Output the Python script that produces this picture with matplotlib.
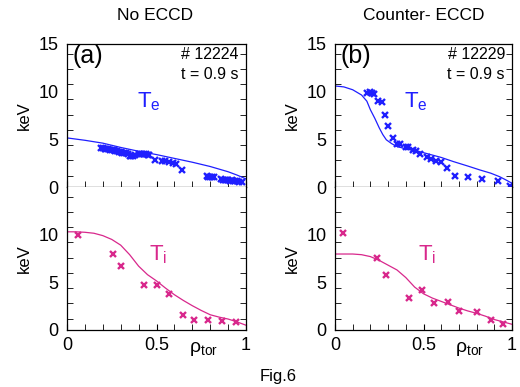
import numpy as np
import matplotlib
matplotlib.use("Agg")
import matplotlib.pyplot as plt

plt.rcParams['font.family'] = ['Liberation Sans', 'DejaVu Sans']

# (a) #12224, no ECCD - electron temperature
rho_te_fit_a = [0.0, 0.1, 0.2, 0.3, 0.4, 0.5, 0.6, 0.7, 0.8, 0.9, 0.95, 1.0]
te_fit_a = [5.15, 4.9, 4.6, 4.15, 3.75, 3.4, 3.0, 2.6, 2.15, 1.6, 1.25, 0.85]
rho_te_a = [0.19, 0.20, 0.21, 0.22, 0.23, 0.24, 0.25, 0.26, 0.27, 0.28, 0.29, 0.30,
            0.31, 0.32, 0.33, 0.34, 0.35, 0.36, 0.37, 0.38, 0.40, 0.41, 0.42, 0.43,
            0.44, 0.45, 0.46, 0.49, 0.53, 0.55, 0.57, 0.59, 0.61, 0.64,
            0.78, 0.79, 0.80, 0.81, 0.82, 0.86, 0.87, 0.88, 0.89, 0.90, 0.91,
            0.92, 0.93, 0.94, 0.95, 0.96, 0.98]
te_a = [4.1, 4.05, 4.0, 4.0, 3.95, 3.9, 3.9, 3.85, 3.8, 3.75, 3.7, 3.65,
        3.6, 3.6, 3.55, 3.45, 3.3, 3.2, 3.3, 3.4, 3.45, 3.5, 3.5, 3.45,
        3.45, 3.4, 3.35, 2.8, 2.75, 2.7, 2.65, 2.55, 2.45, 1.8,
        1.15, 1.1, 1.05, 1.0, 1.0, 0.8, 0.75, 0.7, 0.7, 0.7, 0.65,
        0.7, 0.65, 0.6, 0.6, 0.55, 0.5]

# (b) #12229, counter ECCD - electron temperature
rho_te_fit_b = [0.0, 0.05, 0.1, 0.15, 0.18, 0.2, 0.225, 0.25, 0.27, 0.29, 0.32, 0.35,
                0.4, 0.45, 0.5, 0.55, 0.6, 0.67, 0.75, 0.82, 0.88, 0.93, 0.97, 1.0]
te_fit_b = [10.6, 10.5, 10.2, 9.65, 9.0, 8.1, 7.2, 6.2, 5.5, 4.95, 4.55, 4.25,
            4.0, 3.85, 3.6, 3.35, 3.1, 2.66, 2.2, 1.78, 1.45, 1.08, 0.7, 0.39]
rho_te_b = [0.18, 0.195, 0.21, 0.22, 0.245, 0.265, 0.28, 0.30, 0.326, 0.35, 0.37,
            0.40, 0.41, 0.44, 0.46, 0.48, 0.52, 0.545, 0.57, 0.60, 0.63,
            0.68, 0.75, 0.83, 0.92, 0.99]
te_b = [9.9, 10.0, 9.9, 9.75, 9.0, 8.95, 7.55, 6.4, 5.1, 4.55, 4.5,
        4.2, 4.15, 3.85, 3.8, 3.46, 3.1, 2.95, 2.76, 2.6, 2.0,
        1.19, 1.02, 0.8, 0.67, 0.14]

# ion temperature
rho_ti_fit_a = [0.0, 0.05, 0.1, 0.15, 0.2, 0.25, 0.3, 0.35, 0.4, 0.45, 0.5,
                0.55, 0.6, 0.65, 0.7, 0.75, 0.8, 0.85, 0.9, 0.95, 1.0]
ti_fit_a = [10.3, 10.3, 10.25, 10.15, 9.9, 9.5, 8.9, 7.9, 6.7, 5.8, 5.15,
            4.4, 3.7, 3.1, 2.55, 2.05, 1.6, 1.35, 1.15, 0.85, 0.5]
rho_ti_a = [0.063, 0.257, 0.30, 0.43, 0.50, 0.57, 0.65, 0.71, 0.79, 0.865, 0.946]
ti_a = [9.97, 7.97, 6.7, 4.69, 4.69, 3.78, 1.54, 1.05, 1.05, 0.98, 0.84]

rho_ti_fit_b = [0.0, 0.1, 0.15, 0.2, 0.25, 0.3, 0.35, 0.4, 0.45, 0.5, 0.55,
                0.6, 0.65, 0.7, 0.75, 0.8, 0.85, 0.9, 0.95, 1.0]
ti_fit_b = [7.97, 7.97, 7.9, 7.7, 7.3, 6.8, 6.3, 5.5, 4.5, 3.8, 3.35,
            3.0, 2.65, 2.3, 2.0, 1.75, 1.45, 1.1, 0.85, 0.6]
rho_ti_b = [0.043, 0.24, 0.286, 0.42, 0.49, 0.56, 0.64, 0.70, 0.80, 0.88, 0.95]
ti_b = [10.2, 7.52, 5.77, 3.39, 4.2, 2.83, 2.94, 2.03, 1.89, 1.05, 0.6]

blue = '#1f1fff'
pink = '#d8288c'

fig = plt.figure(figsize=(5.2, 3.87), dpi=100)
W, H = 520, 387

def make_ax(x0, x1, y0, y1):
    return fig.add_axes([x0 / W, 1 - y1 / H, (x1 - x0) / W, (y1 - y0) / H])

ax_ta = make_ax(67, 246, 44, 187)
ax_ba = make_ax(67, 246, 187, 330)
ax_tb = make_ax(335, 512, 44, 187)
ax_bb = make_ax(335, 512, 187, 330)

for ax in (ax_ta, ax_ba, ax_tb, ax_bb):
    ax.set_xlim(0, 1)
    ax.set_ylim(0, 15)
    ax.set_xticks([0, 0.5, 1])
    ax.set_xticks(np.arange(0.1, 1.0, 0.1), minor=True)
    ax.set_yticks(np.arange(1.2, 15, 1.6), minor=True)
    ax.tick_params(which='major', axis='y', length=0, labelsize=13, pad=6)
    ax.tick_params(which='major', axis='x', length=4, direction='in', labelsize=13, pad=5)
    ax.tick_params(which='minor', direction='in', length=4, right=True, left=True)
    for s in ax.spines.values():
        s.set_linewidth(0.9)
    ax.set_ylabel('keV', fontsize=12, labelpad=5)

for ax in (ax_ta, ax_tb):
    ax.set_yticks([0, 5, 10, 15])
    ax.tick_params(axis='x', labelbottom=False)
for ax in (ax_ba, ax_bb):
    ax.set_yticks([0, 5, 10])
    ax.spines['top'].set_visible(False)
    ax.set_xticklabels(['0', '0.5', '1'])

mk = dict(ls='none', marker='x', ms=4, mew=1.7)

ax_ta.plot(rho_te_fit_a, te_fit_a, color=blue, lw=0.9)
ax_ta.plot(rho_te_a, te_a, color=blue, **mk)
ax_tb.plot(rho_te_fit_b, te_fit_b, color=blue, lw=0.9)
ax_tb.plot(rho_te_b, te_b, color=blue, **mk)
ax_ba.plot(rho_ti_fit_a, ti_fit_a, color=pink, lw=0.9)
ax_ba.plot(rho_ti_a, ti_a, color=pink, **mk)
ax_bb.plot(rho_ti_fit_b, ti_fit_b, color=pink, lw=0.9)
ax_bb.plot(rho_ti_b, ti_b, color=pink, **mk)

for ax, lab, shot in ((ax_ta, '(a)', '# 12224'), (ax_tb, '(b)', '# 12229')):
    ax.text(0.03, 1.0, lab, transform=ax.transAxes, fontsize=18, va='top', ha='left')
    ax.text(0.96, 0.93, shot, transform=ax.transAxes, fontsize=11.5, va='center', ha='right')
    ax.text(0.96, 0.79, 't = 0.9 s', transform=ax.transAxes, fontsize=11.5, va='center', ha='right')

ax_ta.text(0.39, 0.6, r'$\mathregular{T_e}$', transform=ax_ta.transAxes, color=blue, fontsize=16, va='center')
ax_tb.text(0.39, 0.6, r'$\mathregular{T_e}$', transform=ax_tb.transAxes, color=blue, fontsize=16, va='center')
ax_ba.text(0.46, 0.53, r'$\mathregular{T_i}$', transform=ax_ba.transAxes, color=pink, fontsize=16, va='center')
ax_bb.text(0.47, 0.53, r'$\mathregular{T_i}$', transform=ax_bb.transAxes, color=pink, fontsize=16, va='center')

for ax in (ax_ba, ax_bb):
    ax.text(0.68, -0.07, r'$\mathregular{ρ_{tor}}$', transform=ax.transAxes, fontsize=14, va='top', ha='left')

fig.text(155 / W, 1 - 16 / H, 'No ECCD', fontsize=12.5, ha='center', va='center')
fig.text(424 / W, 1 - 16 / H, 'Counter- ECCD', fontsize=12.5, ha='center', va='center')
fig.text(278 / W, 1 - 376 / H, 'Fig.6', fontsize=12, ha='center', va='center')

fig.savefig('out.png', dpi=100)
